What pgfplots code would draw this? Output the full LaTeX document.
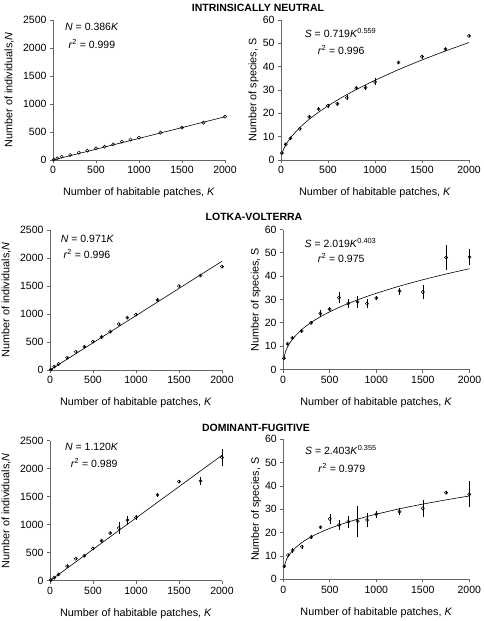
\documentclass[border=0pt]{standalone}
\usepackage{fontspec}
\setmainfont{Liberation Sans}
\usepackage{pgfplots}
\pgfplotsset{compat=1.18}
\usepackage{pgfplotstable}

\pgfplotstableread{
K N Nerr S Serr
10 6 0 3.0 0.5
50 30 0 6.7 0.5
100 60 0 9.3 0.6
200 89 0 13.3 0.6
300 131 0 18.5 0.7
400 167 0 21.8 0.8
500 208 0 23.3 0.8
600 238 0 24.1 0.8
700 280 0 26.7 1.0
800 327 0 30.8 0.8
900 365 0 31.0 1.2
1000 399 0 33.5 1.5
1250 488 0 41.8 0.6
1500 577 0 44.3 0.8
1750 667 0 47.5 0.6
2000 774 0 53.2 0.5
}\neutral

\pgfplotstableread{
K N Nerr S Serr
10 10 5 4.8 0.5
50 60 5 11.0 0.5
100 107 8 13.5 0.6
200 220 10 16.5 1.0
300 325 10 20.0 0.6
400 417 12 24.0 1.5
500 506 12 25.8 0.8
600 590 15 30.8 2.5
700 685 15 28.3 2.0
800 821 20 29.0 2.5
900 935 15 28.2 2.0
1000 990 15 30.6 1.0
1250 1252 20 33.6 1.5
1500 1500 15 33.2 3.0
1750 1688 15 48.0 5.3
2000 1845 15 48.2 3.5
}\lotka

\pgfplotstableread{
K N Nerr S Serr
10 12 5 5.6 0.6
50 55 8 10.4 0.5
100 112 20 12.4 1.0
200 262 10 14.0 0.8
300 393 20 18.1 1.0
400 446 15 22.3 0.6
500 577 20 25.9 2.0
600 714 30 23.3 2.0
700 851 20 24.7 2.5
800 940 110 24.9 6.6
900 1083 80 25.4 3.0
1000 1131 40 27.9 1.5
1250 1530 40 29.0 1.5
1500 1768 30 30.4 3.6
1750 1780 70 37.1 0.6
2000 2200 150 36.4 5.6
}\domfug

\tikzset{eq/.style={anchor=west, font=\fontsize{10.5}{12}\selectfont, inner sep=0pt},
  ttl/.style={font=\bfseries\fontsize{10.5}{12}\selectfont}}

\pgfplotsset{
  panel/.style={
    scale only axis, height=140pt,
    xmin=0, xmax=2000, ymin=0,
    axis x line*=bottom, axis y line*=left,
    axis line style={gray!80!black, line width=0.8pt, -},
    tick style={gray!80!black, line width=0.8pt},
    tick align=outside, major tick length=3pt,
    xtick={0,500,...,2000},
    minor tick num=0,
    scaled ticks=false,
    tick label style={font=\fontsize{10.5}{12}\selectfont},
    /pgf/number format/assume math mode=true,
    /pgf/number format/1000 sep={},
    label style={font=\fontsize{10.8}{12}\selectfont},
    clip=false,
    xlabel={Number of habitable patches, \textit{K}},
    xlabel style={at={(axis description cs:0.5,-0.236)}, anchor=center},
  },
  npanel/.style={panel, width=172pt, ymax=2500, ytick={0,500,...,2500},
    ylabel={Number of individuals,\textit{N}},
    ylabel style={at={(axis description cs:-0.255,0.5)}, anchor=center}},
  spanel/.style={panel, width=187pt, ymax=60, ytick={0,10,...,60},
    ylabel={Number of species, S},
    ylabel style={at={(axis description cs:-0.146,0.5)}, anchor=center}},
  pts/.style={only marks, mark=o, black, mark size=1.6pt, mark options={line width=0.5pt},
    error bars/.cd, y dir=both, y explicit, error mark=none,
    error bar style={line width=0.5pt, black}},
  fit/.style={black, line width=0.6pt, no marks},
}

\begin{document}
\begin{tikzpicture}
\path[use as bounding box] (0pt,0pt) rectangle (483pt,-621pt);

\node[ttl] at (258pt,-8pt) {INTRINSICALLY NEUTRAL};
\node[ttl] at (254pt,-217pt) {LOTKA-VOLTERRA};
\node[ttl] at (256pt,-428pt) {DOMINANT-FUGITIVE};

% Row 1
\begin{axis}[npanel, at={(53pt,-160pt)}, anchor=south west]
\addplot[fit] coordinates {(0,0) (2000,772)};
\addplot[pts] table[x=K, y=N, y error=Nerr] {\neutral};
\node[eq] at (axis cs:140,2370) {\textit{N} = 0.386\textit{K}};
\node[eq] at (axis cs:178,2066) {\textit{r}\textsuperscript{2} = 0.999};
\end{axis}
\begin{axis}[spanel, at={(281pt,-160pt)}, anchor=south west, width=188pt]
\addplot[fit, smooth] coordinates {(10,2.605) (25,4.347) (50,6.405) (100,9.435) (200,13.90) (300,17.44) (400,20.48) (500,23.20) (600,25.69) (700,28.00) (800,30.17) (900,32.22) (1000,34.17) (1250,38.72) (1500,42.87) (1750,46.73) (2000,50.35)};
\addplot[pts] table[x=K, y=S, y error=Serr] {\neutral};
\node[eq] at (axis cs:251,54.3) {\textit{S} = 0.719\textit{K}\textsuperscript{0.559}};
\node[eq] at (axis cs:389,47.1) {\textit{r}\textsuperscript{2} = 0.996};
\end{axis}

% Row 2
\begin{axis}[npanel, at={(50pt,-370pt)}, anchor=south west]
\addplot[fit] coordinates {(0,0) (2000,1942)};
\addplot[pts] table[x=K, y=N, y error=Nerr] {\lotka};
\node[eq] at (axis cs:124,2334) {\textit{N} = 0.971\textit{K}};
\node[eq] at (axis cs:155,2071) {\textit{r}\textsuperscript{2} = 0.996};
\end{axis}
\begin{axis}[spanel, at={(283pt,-369.5pt)}, anchor=south west, width=186.5pt]
\addplot[fit, smooth] coordinates {(10,5.107) (25,7.387) (50,9.769) (100,12.916) (200,17.078) (300,20.11) (400,22.58) (500,24.71) (600,26.59) (700,28.30) (800,29.86) (900,31.31) (1000,32.67) (1250,35.74) (1500,38.47) (1750,40.94) (2000,43.20)};
\addplot[pts] table[x=K, y=S, y error=Serr] {\lotka};
\node[eq] at (axis cs:231,54.3) {\textit{S} = 2.019\textit{K}\textsuperscript{0.403}};
\node[eq] at (axis cs:371,47.6) {\textit{r}\textsuperscript{2} = 0.975};
\end{axis}

% Row 3
\begin{axis}[npanel, at={(50pt,-580.7pt)}, anchor=south west]
\addplot[fit] coordinates {(0,0) (2000,2240)};
\addplot[pts] table[x=K, y=N, y error=Nerr] {\domfug};
\node[eq] at (axis cs:174,2393) {\textit{N} = 1.120\textit{K}};
\node[eq] at (axis cs:240,2096) {\textit{r}\textsuperscript{2} = 0.989};
\end{axis}
\begin{axis}[spanel, at={(283.3pt,-579.3pt)}, anchor=south west, width=186pt]
\addplot[fit, smooth] coordinates {(10,5.442) (25,7.534) (50,9.636) (100,12.324) (200,15.763) (300,18.203) (400,20.161) (500,21.823) (600,23.282) (700,24.59) (800,25.79) (900,26.89) (1000,27.91) (1250,30.21) (1500,32.23) (1750,34.05) (2000,35.70)};
\addplot[pts] table[x=K, y=S, y error=Serr] {\domfug};
\node[eq] at (axis cs:233,55.4) {\textit{S} = 2.403\textit{K}\textsuperscript{0.355}};
\node[eq] at (axis cs:376,47.6) {\textit{r}\textsuperscript{2} = 0.979};
\end{axis}
\end{tikzpicture}
\end{document}
